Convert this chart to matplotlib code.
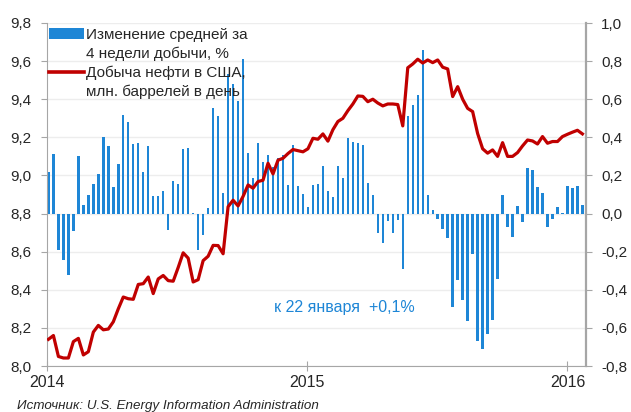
import matplotlib
matplotlib.use("Agg")
import matplotlib.pyplot as plt
import matplotlib.dates as mdates
from matplotlib.lines import Line2D
from matplotlib.patches import Patch
import pandas as pd

plt.rcParams['font.family'] = ['Liberation Sans', 'DejaVu Sans']

# Weekly data, 3 Jan 2014 .. 22 Jan 2016
weeks = pd.date_range('2014-01-03', periods=108, freq='W-FRI')

# Change of 4-week average production, % (right axis)
change_pct = [
    0.22, 0.31, -0.19, -0.245, -0.32, -0.09, 0.30, 0.045, 0.10, 0.155,
    0.205, 0.40, 0.355, 0.14, 0.26, 0.515, 0.48, 0.365, 0.37, 0.22,
    0.355, 0.09, 0.09, 0.12, -0.085, 0.173, 0.156, 0.338, 0.346, 0.005,
    -0.19, -0.115, 0.03, 0.553, 0.513, 0.11, 0.733, 0.68, 0.59, 0.81,
    0.317, 0.184, 0.372, 0.27, 0.308, 0.242, 0.294, 0.306, 0.148, 0.362,
    0.142, 0.103, 0.033, 0.148, 0.157, 0.247, 0.117, 0.088, 0.252, 0.188,
    0.396, 0.374, 0.37, 0.362, 0.161, 0.096, -0.103, -0.157, -0.04, -0.103,
    -0.032, -0.29, 0.514, 0.571, 0.624, 0.859, 0.097, 0.019, -0.028, -0.08,
    -0.128, -0.488, -0.35, -0.453, -0.566, -0.212, -0.668, -0.71, -0.633, -0.556,
    -0.343, 0.096, -0.072, -0.121, 0.042, -0.046, 0.24, 0.23, 0.138, 0.108,
    -0.072, -0.028, 0.033, 0.005, 0.147, 0.133, 0.147, 0.046,
]

# US crude production, mln barrels per day (left axis)
production = [
    8.14, 8.16, 8.05, 8.042, 8.042, 8.128, 8.145, 8.058, 8.075, 8.178,
    8.213, 8.19, 8.194, 8.232, 8.30, 8.362, 8.353, 8.35, 8.428, 8.432,
    8.467, 8.38, 8.457, 8.475, 8.448, 8.445, 8.517, 8.594, 8.566, 8.441,
    8.453, 8.553, 8.576, 8.633, 8.632, 8.589, 8.836, 8.87, 8.84, 8.89,
    8.95, 8.933, 8.968, 8.975, 9.064, 9.008, 9.08, 9.09, 9.115, 9.136,
    9.13, 9.124, 9.14, 9.195, 9.19, 9.218, 9.18, 9.24, 9.283, 9.30,
    9.34, 9.375, 9.417, 9.415, 9.387, 9.40, 9.38, 9.365, 9.375, 9.375,
    9.372, 9.26, 9.565, 9.585, 9.61, 9.59, 9.606, 9.592, 9.606, 9.568,
    9.559, 9.414, 9.466, 9.40, 9.352, 9.335, 9.22, 9.14, 9.117, 9.134,
    9.10, 9.172, 9.10, 9.10, 9.12, 9.155, 9.186, 9.181, 9.165, 9.204,
    9.169, 9.178, 9.178, 9.204, 9.216, 9.227, 9.237, 9.218,
]

left_ticks = [8.0, 8.2, 8.4, 8.6, 8.8, 9.0, 9.2, 9.4, 9.6, 9.8]
right_ticks = [-0.8, -0.6, -0.4, -0.2, 0.0, 0.2, 0.4, 0.6, 0.8, 1.0]
year_ticks = ['2014-01-01', '2015-01-01', '2016-01-01']
year_labels = ['2014', '2015', '2016']

label_bars = 'Изменение средней за'
label_bars2 = '4 недели добычи, %'
label_line = 'Добыча нефти в США,'
label_line2 = 'млн. баррелей в день'
note = 'к 22 января  +0,1%'
source = 'Источник: U.S. Energy Information Administration'

BLUE = '#1E86D6'
RED = '#C00000'
SPINE = '#A6A6A6'
TXT = '#262626'

fig = plt.figure(figsize=(6.31, 4.12), dpi=100)
ax = fig.add_axes([47 / 631, 1 - 366 / 412, (586 - 47) / 631, (366 - 23) / 412])
ax2 = ax.twinx()
ax.set_zorder(ax2.get_zorder() + 1)
ax.patch.set_visible(False)

fmt = lambda v, p=None: f'{v:.1f}'.replace('.', ',')

# bars (right axis)
ax2.bar(weeks, change_pct, width=3.4, color=BLUE, zorder=3)
ax2.set_ylim(-0.8, 1.0)
ax2.set_yticks(right_ticks)
ax2.set_yticklabels([fmt(v) for v in right_ticks])
for v in right_ticks:
    ax2.axhline(v, color='#EDEDED', lw=1.0, zorder=0)

# line (left axis)
ax.plot(weeks, production, color=RED, lw=2.3, solid_joinstyle='round', zorder=4)
ax.set_ylim(8.0, 9.8)
ax.set_yticks(left_ticks)
ax.set_yticklabels([fmt(v) for v in left_ticks])

ax.set_xlim(pd.Timestamp('2014-01-01'), pd.Timestamp('2016-01-27'))
ax.set_xticks([mdates.date2num(pd.Timestamp(d)) for d in year_ticks])
ax.set_xticklabels(year_labels)

for a in (ax, ax2):
    for s in a.spines.values():
        s.set_visible(False)
ax.spines['left'].set_visible(True)
ax.spines['left'].set_color(SPINE)
ax.spines['bottom'].set_visible(True)
ax.spines['bottom'].set_color(SPINE)
ax2.spines['right'].set_visible(True)
ax2.spines['right'].set_color(SPINE)
ax2.spines['right'].set_linewidth(1.6)

ax.tick_params(axis='y', direction='out', length=4, color=SPINE, labelsize=11, labelcolor=TXT, pad=7)
ax2.tick_params(axis='y', direction='out', length=4, color=SPINE, labelsize=11, labelcolor=TXT, pad=7)
ax.tick_params(axis='x', direction='inout', length=7, color=SPINE, labelsize=11.5, labelcolor=TXT, pad=3)

handles = [
    Patch(facecolor=BLUE, edgecolor='none'),
    Line2D([], [], linestyle='none'),
    Line2D([], [], color=RED, lw=2.6),
    Line2D([], [], linestyle='none'),
]
labels = [label_bars, label_bars2, label_line, label_line2]
leg = ax.legend(handles, labels, loc='upper left', bbox_to_anchor=(-0.005, 1.0),
                frameon=False, fontsize=11, handlelength=2.3, handleheight=0.7,
                handletextpad=0.1, labelspacing=0.3, borderaxespad=0.0,
                borderpad=0.32)
for t in leg.get_texts():
    t.set_color(TXT)

ax.text(0.551, 0.172, note, transform=ax.transAxes, ha='center', va='center',
        color=BLUE, fontsize=11.5)

fig.text(17 / 631, 1 - 406 / 412, source, ha='left', va='center',
         fontsize=9.6, style='italic', color=TXT)

fig.savefig('out.png', dpi=100)
